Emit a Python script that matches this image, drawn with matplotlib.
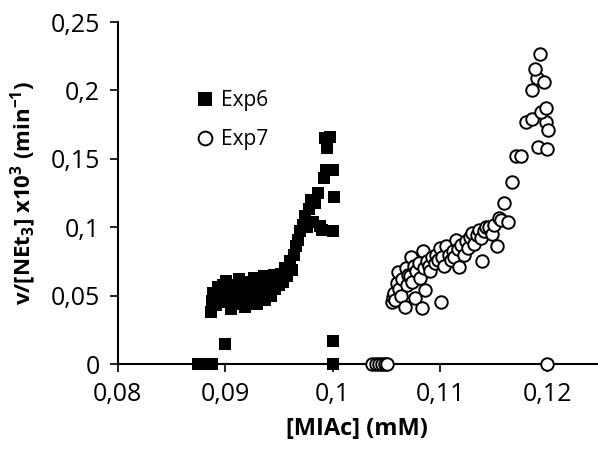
import matplotlib
matplotlib.use("Agg")
import matplotlib.pyplot as plt
from matplotlib.ticker import FuncFormatter, MultipleLocator

# Exp6 (filled squares)
exp6_x = [0.0875, 0.0878, 0.0881, 0.0884, 0.0886, 0.0888, 0.0900, 0.1000,
          0.0887, 0.0888, 0.0889, 0.0891, 0.0893, 0.0895, 0.0896, 0.0898,
          0.0899, 0.0901, 0.0902, 0.0904, 0.0905, 0.0907, 0.0908, 0.0910,
          0.0912, 0.0913, 0.0915, 0.0917, 0.0918, 0.0920, 0.0922, 0.0924,
          0.0925, 0.0927, 0.0929, 0.0930, 0.0932, 0.0934, 0.0936, 0.0937,
          0.0939, 0.0941, 0.0943, 0.0945, 0.0946, 0.0948, 0.0950, 0.0952,
          0.0954, 0.0956, 0.0958, 0.0960, 0.0962, 0.0964, 0.0966, 0.0968,
          0.0970, 0.0972, 0.0974, 0.0976, 0.0978, 0.0980, 0.0982, 0.0984,
          0.0986, 0.0988, 0.0990, 0.0992, 0.0994, 0.0995, 0.0993, 0.0998,
          0.1000, 0.1001, 0.1000, 0.1000]
exp6_y = [0, 0, 0, 0, 0, 0, 0.015, 0.017,
          0.038, 0.046, 0.052, 0.043, 0.056, 0.050, 0.045, 0.058,
          0.052, 0.061, 0.047, 0.055, 0.040, 0.050, 0.058, 0.044,
          0.054, 0.062, 0.048, 0.057, 0.042, 0.052, 0.060, 0.046,
          0.055, 0.063, 0.050, 0.044, 0.058, 0.052, 0.064, 0.047,
          0.056, 0.060, 0.050, 0.065, 0.055, 0.062, 0.058, 0.066,
          0.060, 0.070, 0.064, 0.075, 0.069, 0.080, 0.086, 0.091,
          0.097, 0.102, 0.108, 0.100, 0.113, 0.120, 0.104, 0.118,
          0.125, 0.101, 0.098, 0.136, 0.142, 0.158, 0.165, 0.166,
          0.142, 0.122, 0.097, 0]

# Exp7 (open circles)
exp7_x = [0.1037, 0.1040, 0.1043, 0.1046, 0.1049, 0.1051, 0.1200,
          0.1055, 0.1056, 0.1057, 0.1058, 0.1060, 0.1061, 0.1062, 0.1064,
          0.1065, 0.1067, 0.1068, 0.1069, 0.1070, 0.1072, 0.1073, 0.1074,
          0.1076, 0.1077, 0.1078, 0.1080, 0.1081, 0.1083, 0.1084, 0.1085,
          0.1086, 0.1088, 0.1090, 0.1091, 0.1093, 0.1095, 0.1096, 0.1098,
          0.1100, 0.1101, 0.1102, 0.1104, 0.1106, 0.1108, 0.1110, 0.1112,
          0.1113, 0.1115, 0.1117, 0.1118, 0.1120, 0.1122, 0.1124, 0.1126,
          0.1128, 0.1130, 0.1132, 0.1134, 0.1136, 0.1138, 0.1139, 0.1141,
          0.1143, 0.1146, 0.1148, 0.1150, 0.1153, 0.1155, 0.1157, 0.1160,
          0.1163, 0.1167, 0.1171, 0.1175, 0.1180, 0.1186, 0.1199, 0.1201,
          0.1191, 0.1200, 0.1194, 0.1199, 0.1186, 0.1190, 0.1197, 0.1188,
          0.1193]
exp7_y = [0, 0, 0, 0, 0, 0, 0,
          0.045, 0.049, 0.052, 0.047, 0.059, 0.067, 0.055, 0.050,
          0.062, 0.042, 0.070, 0.058, 0.065, 0.064, 0.078, 0.060,
          0.072, 0.048, 0.068, 0.074, 0.063, 0.041, 0.083, 0.070,
          0.054, 0.075, 0.072, 0.068, 0.078, 0.074, 0.080, 0.076,
          0.085, 0.045, 0.078, 0.072, 0.086, 0.080, 0.076, 0.083,
          0.078, 0.091, 0.084, 0.071, 0.087, 0.080, 0.090, 0.085,
          0.093, 0.096, 0.088, 0.094, 0.098, 0.092, 0.075, 0.097,
          0.100, 0.100, 0.095, 0.102, 0.086, 0.107, 0.105, 0.118,
          0.104, 0.133, 0.152, 0.152, 0.177, 0.179, 0.177, 0.171,
          0.159, 0.157, 0.184, 0.187, 0.200, 0.209, 0.206, 0.216,
          0.227]

plt.rcParams['font.family'] = ['Open Sans', 'DejaVu Sans']
plt.rcParams['mathtext.fontset'] = 'custom'
plt.rcParams['mathtext.rm'] = 'Open Sans'
plt.rcParams['mathtext.bf'] = 'Open Sans:bold'
plt.rcParams['mathtext.default'] = 'bf'

fig = plt.figure(figsize=(5.98, 4.5), dpi=100)
ax = fig.add_axes([0.197, 0.191, 0.801, 0.76])

ax.plot(exp6_x, exp6_y, 's', color='black', markersize=9, markeredgewidth=0,
        label='Exp6', clip_on=False, zorder=3)
ax.plot(exp7_x, exp7_y, 'o', markerfacecolor='white', markeredgecolor='black',
        markersize=9, markeredgewidth=1.4, label='Exp7', clip_on=False, zorder=4)

ax.set_xlim(0.08, 0.1246)
ax.set_ylim(0, 0.25)
ax.xaxis.set_major_locator(MultipleLocator(0.01))
ax.yaxis.set_major_locator(MultipleLocator(0.05))
fmt = FuncFormatter(lambda v, p: ('%g' % round(v, 4)).replace('.', ','))
ax.xaxis.set_major_formatter(fmt)
ax.yaxis.set_major_formatter(fmt)

for s in ['top', 'right']:
    ax.spines[s].set_visible(False)
for s in ['left', 'bottom']:
    ax.spines[s].set_linewidth(1.5)
ax.tick_params(direction='out', length=6, width=1.2, labelsize=18, pad=7)

ax.set_xlabel('[MIAc] (mM)', fontsize=17, fontweight='bold', labelpad=7)
ax.set_ylabel(r'v/[NEt$_3$] x10$^3$ (min$^{-1}$)', fontsize=16,
              fontweight='bold', labelpad=8)

ax.legend(loc='center left', bbox_to_anchor=(0.166, 0.713), frameon=False,
          fontsize=15, markerscale=1.1, handlelength=0.7, handletextpad=0.45,
          labelspacing=0.85, borderaxespad=0, borderpad=0)

fig.savefig('out.png', dpi=100)
